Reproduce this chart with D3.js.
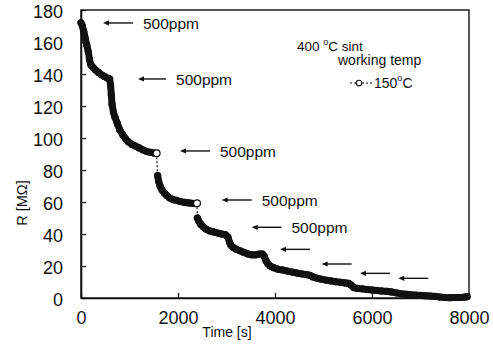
<!DOCTYPE html>
<html>
<head>
<meta charset="utf-8">
<script src="https://cdn.jsdelivr.net/npm/d3@7"></script>
<style>
  body { margin: 0; background: #fff; }
  svg { display: block; font-family: "Liberation Sans", Arial, sans-serif; }
</style>
</head>
<body>
<svg id="chart" width="493" height="356"></svg>
<script>
// R [MOhm] vs time [s], 400 C sintered sensor, dosed with 500ppm pulses
var seg1Time = [0, 30, 60, 90, 120, 150, 175, 200, 250, 300, 360, 420, 480, 540, 590, 610, 625, 640, 670, 700, 750, 800, 860, 920, 980, 1050, 1120, 1200, 1280, 1360, 1440, 1520];
var seg1Res  = [172, 170, 166, 162, 158, 154, 149, 146, 144, 142.5, 141, 139.5, 138.5, 137.5, 137, 133, 127, 121, 116, 113, 109, 105, 102, 99.5, 97.5, 96, 95, 93.8, 92.5, 91.5, 91, 90.5];

var seg2Time = [1580, 1600, 1630, 1670, 1720, 1770, 1830, 1900, 1970, 2050, 2130, 2210, 2290, 2360];
var seg2Res  = [76.5, 73, 70, 67.5, 65.5, 64, 62.5, 61.5, 61, 60.3, 59.8, 59.5, 59.2, 59];

var seg3Time = [2400, 2430, 2470, 2520, 2580, 2650, 2730, 2820, 2900, 2980, 3030, 3060, 3090, 3140, 3200, 3280, 3360, 3440, 3520, 3600, 3680, 3740, 3780, 3810, 3850, 3900, 3970, 4060, 4160, 4260, 4360, 4460, 4560, 4650, 4720, 4780, 4850, 4950, 5050, 5150, 5250, 5350, 5450, 5520, 5570, 5620, 5700, 5800, 5900, 6000, 6100, 6200, 6300, 6400, 6500, 6600, 6700, 6800, 6900, 7000, 7100, 7200, 7300, 7400, 7500, 7600, 7700, 7800, 7900, 7960];
var seg3Res  = [50, 48, 46, 44.5, 43, 42, 41.3, 40.6, 40, 39.5, 38, 35, 33, 31.5, 30.5, 29.5, 28.5, 27.5, 27, 27, 27.5, 27.5, 26, 23.5, 21.5, 20, 19, 18, 17.5, 16.8, 16.2, 15.5, 15, 14.6, 14.2, 13.2, 12.5, 11.8, 11.2, 10.7, 10.2, 9.8, 9.4, 9.2, 8, 6.5, 6, 5.7, 5.3, 5, 4.7, 4.4, 4.2, 3.8, 3.2, 2.6, 2.3, 2, 1.8, 1.6, 1.4, 1.2, 1, 0.6, 0.3, 0.2, 0.3, 0.3, 0.5, 0.8];

// 150 C working temperature steps (dashed, open markers)
var lowTime = [[1560, 1575], [2392, 2398]];
var lowRes  = [[90.5, 77], [59.2, 50]];

// gas pulse arrows: from, to (time), level (R), label
var arrowFrom  = [454, 1175, 2041, 2900, 3520, 4103, 4962, 5753, 6543];
var arrowTo    = [1072, 1753, 2660, 3520, 4134, 4722, 5581, 6371, 7161];
var arrowLevel = [171.9, 136.9, 91.9, 61.25, 44.2, 30.4, 21.25, 15.4, 12.3];
var arrowLabel = ["500ppm", "500ppm", "500ppm", "500ppm", "500ppm", "", "", "", ""];

var xTicks = [0, 2000, 4000, 6000, 8000];
var yTicks = [0, 20, 40, 60, 80, 100, 120, 140, 160, 180];

var margin = {top: 10, right: 24, bottom: 58, left: 81};
var svg = d3.select("#chart");
var width = +svg.attr("width") - margin.left - margin.right;
var height = +svg.attr("height") - margin.top - margin.bottom;

svg.append("rect").attr("width", 493).attr("height", 356).attr("fill", "#fff");

var g = svg.append("g")
  .attr("transform", "translate(" + margin.left + "," + margin.top + ")");

var x = d3.scaleLinear().domain([0, 8000]).range([0, width]);
var y = d3.scaleLinear().domain([0, 180]).range([height, 0]);

// frame
g.append("rect")
  .attr("width", width)
  .attr("height", height)
  .attr("fill", "none")
  .attr("stroke", "#111")
  .attr("stroke-width", 1.4);

var xAxis = g.append("g")
  .attr("transform", "translate(0," + height + ")")
  .call(d3.axisBottom(x).tickValues(xTicks).tickFormat(d3.format("d"))
    .tickSizeInner(-5).tickSizeOuter(0).tickPadding(13));
var yAxis = g.append("g")
  .call(d3.axisLeft(y).tickValues(yTicks).tickFormat(d3.format("d"))
    .tickSizeInner(-5).tickSizeOuter(0).tickPadding(18));

[xAxis, yAxis].forEach(function(a) {
  a.select(".domain").attr("stroke", "#111").attr("stroke-width", 1.6);
  a.selectAll(".tick line").attr("stroke", "#111").attr("stroke-width", 1.3);
  a.selectAll(".tick text").attr("font-size", 18).attr("fill", "#111")
    .attr("font-family", "Liberation Sans, Arial, sans-serif");
});
yAxis.selectAll(".tick text").attr("dy", "0.42em");

// axis titles
svg.append("text")
  .attr("x", 227).attr("y", 337)
  .attr("text-anchor", "middle")
  .attr("font-size", 14)
  .attr("fill", "#111")
  .text("Time [s]");
svg.append("text")
  .attr("transform", "translate(27,203) rotate(-90)")
  .attr("text-anchor", "middle")
  .attr("font-size", 14.5)
  .attr("fill", "#111")
  .text("R [MΩ]");

// main series
var line = d3.line()
  .x(function(d) { return x(d[0]); })
  .y(function(d) { return y(d[1]); });

var segments = [
  d3.zip(seg1Time, seg1Res),
  d3.zip(seg2Time, seg2Res),
  d3.zip(seg3Time, seg3Res)
];

segments.forEach(function(seg) {
  g.append("path")
    .datum(seg)
    .attr("d", line)
    .attr("fill", "none")
    .attr("stroke", "#111")
    .attr("stroke-width", 7)
    .attr("stroke-linejoin", "round")
    .attr("stroke-linecap", "round");
  g.selectAll(null)
    .data(seg)
    .enter().append("circle")
    .attr("cx", function(d) { return x(d[0]); })
    .attr("cy", function(d) { return y(d[1]); })
    .attr("r", 3.6)
    .attr("fill", "#111");
});

// 150 C steps
lowTime.forEach(function(ts, i) {
  var pts = d3.zip(ts, lowRes[i]);
  g.append("path")
    .datum(pts)
    .attr("d", line)
    .attr("fill", "none")
    .attr("stroke", "#111")
    .attr("stroke-width", 1.2)
    .attr("stroke-dasharray", "2,2");
  g.append("circle")
    .attr("cx", x(pts[0][0]))
    .attr("cy", y(pts[0][1]))
    .attr("r", 3.4)
    .attr("fill", "#fff")
    .attr("stroke", "#111")
    .attr("stroke-width", 1.2);
});

// arrows, head drawn at the left end
arrowFrom.forEach(function(t0, i) {
  var yy = y(arrowLevel[i]);
  var x0 = x(t0);
  g.append("line")
    .attr("x1", x0 + 4).attr("y1", yy)
    .attr("x2", x(arrowTo[i])).attr("y2", yy)
    .attr("stroke", "#111")
    .attr("stroke-width", 1.4);
  g.append("path")
    .attr("d", "M" + x0 + "," + yy + "l6,-2.6l0,5.2z")
    .attr("fill", "#111");
  if (arrowLabel[i]) {
    g.append("text")
      .attr("x", x(arrowTo[i]) + 10)
      .attr("y", yy + 6)
      .attr("font-size", 15.5)
      .attr("fill", "#111")
      .text(arrowLabel[i]);
  }
});

// legend
var leg = svg.append("g").attr("fill", "#111").attr("font-size", 13.5);
var t1 = leg.append("text").attr("x", 297).attr("y", 51);
t1.append("tspan").text("400 ");
t1.append("tspan").attr("font-size", 9).attr("dy", -6).text("o");
t1.append("tspan").attr("dy", 6).text("C  sint");
leg.append("text").attr("x", 338).attr("y", 65).attr("font-size", 14).text("working temp");
leg.append("line")
  .attr("x1", 350).attr("y1", 83).attr("x2", 372).attr("y2", 83)
  .attr("stroke", "#111").attr("stroke-width", 1.1).attr("stroke-dasharray", "2,2");
leg.append("circle")
  .attr("cx", 359).attr("cy", 83).attr("r", 2.8)
  .attr("fill", "#fff").attr("stroke", "#111").attr("stroke-width", 1.1);
var t2 = leg.append("text").attr("x", 374).attr("y", 88).attr("font-size", 14);
t2.append("tspan").text("150");
t2.append("tspan").attr("font-size", 9).attr("dy", -7).text("o");
t2.append("tspan").attr("dy", 7).text("C");
</script>
</body>
</html>
